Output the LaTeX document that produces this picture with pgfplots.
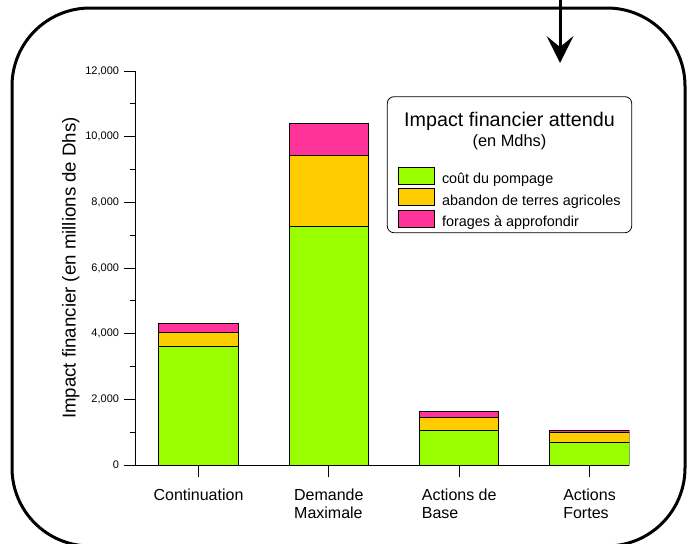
\documentclass[border=0pt]{standalone}
\usepackage{fontspec}
\setmainfont{Liberation Sans}
\usepackage{pgfplots}
\pgfplotsset{compat=1.18}
\definecolor{cgreen}{HTML}{99FF00}
\definecolor{corange}{HTML}{FFCC00}
\definecolor{cpink}{HTML}{FF3399}
\pgfplotsset{
  swatch/.style={legend image code/.code={\draw[##1, draw=black, line width=0.75pt] (0pt,-3.6pt) rectangle (27pt,9.15pt);}},
}
\begin{document}
\begin{tikzpicture}[x=0.75pt,y=-0.75pt]
\useasboundingbox (0,0) rectangle (693,543);
% frame
\draw[line width=2.25pt, rounded corners=58.5pt] (12,8) rectangle (685,546);
% arrow
\draw[line width=2.25pt] (560,-5) -- (560,50);
\fill (560,63) -- (546.5,36) -- (560,47) -- (573.5,36) -- cycle;
% legend box
\draw[fill=white, line width=0.6pt, rounded corners=5pt] (387.3,96.7) rectangle (631.7,232.7);
\node[anchor=base, inner sep=0pt, font=\fontsize{14.8}{16}\selectfont] at (509.5,126.7) {Impact financier attendu};
\node[anchor=base, inner sep=0pt, font=\fontsize{12.3}{14}\selectfont] at (509.5,146.5) {(en Mdhs)};
\begin{axis}[
  at={(101.775pt,-348.75pt)}, anchor=south west,
  scale only axis, width=370.2pt, height=295.5pt,
  ybar stacked, bar width=59.6pt,
  xmin=-0.482, xmax=3.305, ymin=0, ymax=12000,
  axis lines*=left,
  axis line style={line width=0.6pt},
  xtick={0,1,2,3},
  xticklabels={Continuation, {Demande\\Maximale}, {Actions de\\Base}, {Actions\\Fortes}},
  ytick={0,2000,...,12000},
  minor y tick num=1,
  tick align=outside,
  major tick length=9pt,
  minor tick length=4.5pt,
  tick style={black, line width=0.6pt},
  scaled y ticks=false,
  yticklabel style={/pgf/number format/1000 sep={,}, /pgf/number format/assume math mode=true, font=\fontsize{8.25}{10}\selectfont},
  xticklabel style={align=left, font=\fontsize{12}{13.3}\selectfont, yshift=-5.25pt},
  ylabel={Impact financier (en millions de Dhs)},
  ylabel style={font=\fontsize{14}{16}\selectfont, at={(axis description cs:-0.1315,0.5)}, anchor=center},
  legend cell align=left,
  legend style={at={(0.5314,0.7574)}, anchor=north west, draw=none, fill=none, inner sep=0pt, outer sep=0pt, row sep=2.03pt, column sep=5.25pt, font=\fontsize{10.8}{12}\selectfont, nodes={inner sep=0pt}},
]
\addplot[fill=cgreen, draw=black, line width=0.75pt, swatch] coordinates {(0,3600) (1,7260) (2,1050) (3,690)};
\addlegendentry{coût du pompage}
\addplot[fill=corange, draw=black, line width=0.75pt, swatch] coordinates {(0,450) (1,2160) (2,390) (3,300)};
\addlegendentry{abandon de terres agricoles}
\addplot[fill=cpink, draw=black, line width=0.75pt, swatch] coordinates {(0,250) (1,980) (2,180) (3,60)};
\addlegendentry{forages à approfondir}
\end{axis}
\end{tikzpicture}
\end{document}
